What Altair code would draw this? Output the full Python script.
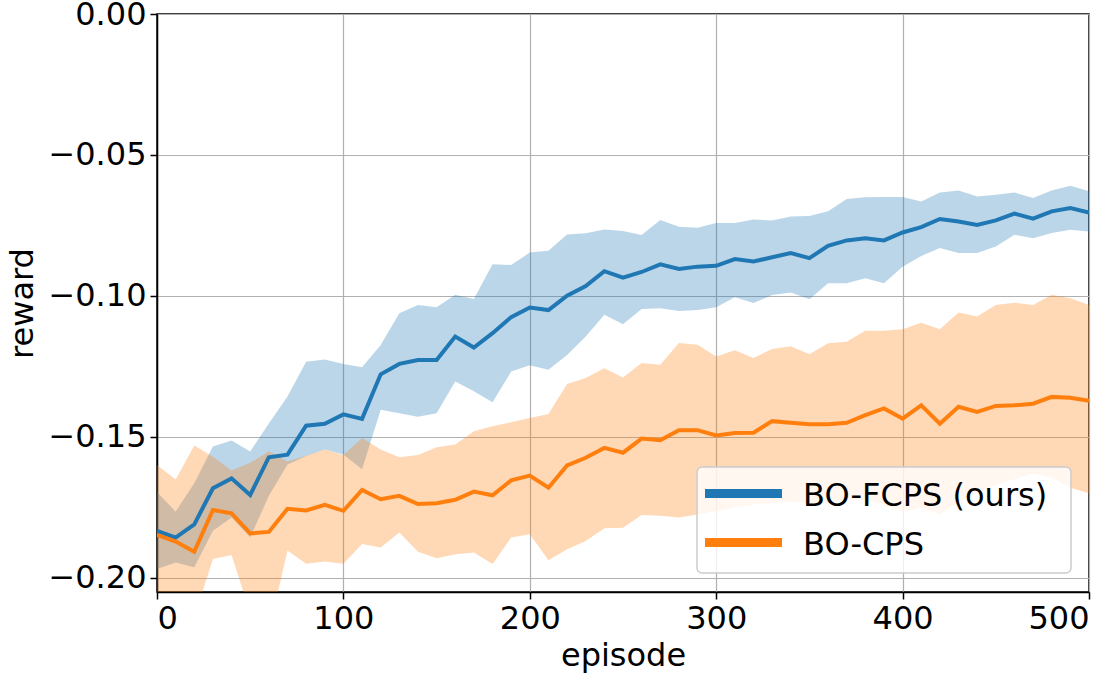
import altair as alt
import pandas as pd

episodes = list(range(0, 501, 10))

fcps_mean = [-0.1833, -0.1857, -0.1810, -0.1682, -0.1647, -0.1706, -0.1572, -0.1563, -0.1460, -0.1453,
             -0.1420, -0.1436, -0.1278, -0.1241, -0.1227, -0.1227, -0.1144, -0.1183, -0.1132, -0.1075,
             -0.1041, -0.1050, -0.0999, -0.0965, -0.0912, -0.0935, -0.0915, -0.0888, -0.0904, -0.0896,
             -0.0893, -0.0869, -0.0878, -0.0863, -0.0848, -0.0866, -0.0822, -0.0803, -0.0795, -0.0803,
             -0.0775, -0.0756, -0.0727, -0.0736, -0.0748, -0.0732, -0.0708, -0.0726, -0.0700, -0.0688,
             -0.0704]
fcps_hi = [-0.1695, -0.1765, -0.1664, -0.1534, -0.1513, -0.1552, -0.1452, -0.1357, -0.1233, -0.1225,
           -0.1241, -0.1253, -0.1174, -0.1061, -0.1032, -0.1040, -0.0996, -0.1011, -0.0888, -0.0890,
           -0.0846, -0.0840, -0.0782, -0.0778, -0.0764, -0.0770, -0.0784, -0.0731, -0.0755, -0.0758,
           -0.0741, -0.0741, -0.0729, -0.0732, -0.0718, -0.0716, -0.0700, -0.0656, -0.0650, -0.0649,
           -0.0649, -0.0665, -0.0633, -0.0626, -0.0647, -0.0641, -0.0633, -0.0653, -0.0626, -0.0609,
           -0.0629]
fcps_lo = [-0.1968, -0.1945, -0.1962, -0.1833, -0.1786, -0.1856, -0.1709, -0.1598, -0.1568, -0.1545,
           -0.1562, -0.1615, -0.1404, -0.1416, -0.1428, -0.1416, -0.1303, -0.1338, -0.1377, -0.1268,
           -0.1246, -0.1262, -0.1209, -0.1144, -0.1067, -0.1100, -0.1046, -0.1044, -0.1053, -0.1050,
           -0.1040, -0.1005, -0.1025, -0.0997, -0.0988, -0.1012, -0.0955, -0.0955, -0.0937, -0.0955,
           -0.0896, -0.0858, -0.0830, -0.0848, -0.0848, -0.0825, -0.0783, -0.0795, -0.0777, -0.0765,
           -0.0771]

cps_mean = [-0.1847, -0.1871, -0.1907, -0.1759, -0.1771, -0.1842, -0.1837, -0.1755, -0.1761, -0.1741,
            -0.1762, -0.1688, -0.1721, -0.1709, -0.1738, -0.1735, -0.1723, -0.1694, -0.1707, -0.1654,
            -0.1637, -0.1680, -0.1601, -0.1574, -0.1539, -0.1556, -0.1506, -0.1512, -0.1476, -0.1476,
            -0.1495, -0.1486, -0.1485, -0.1444, -0.1450, -0.1455, -0.1455, -0.1450, -0.1423, -0.1399,
            -0.1435, -0.1388, -0.1453, -0.1393, -0.1411, -0.1390, -0.1388, -0.1382, -0.1358, -0.1361,
            -0.1372]
cps_hi = [-0.1600, -0.1651, -0.1530, -0.1570, -0.1619, -0.1592, -0.1551, -0.1587, -0.1567, -0.1545,
          -0.1564, -0.1504, -0.1545, -0.1572, -0.1564, -0.1537, -0.1527, -0.1480, -0.1462, -0.1448,
          -0.1433, -0.1419, -0.1312, -0.1291, -0.1256, -0.1289, -0.1238, -0.1244, -0.1167, -0.1173,
          -0.1215, -0.1193, -0.1220, -0.1188, -0.1178, -0.1207, -0.1168, -0.1162, -0.1123, -0.1123,
          -0.1118, -0.1095, -0.1118, -0.1059, -0.1073, -0.1032, -0.1024, -0.1032, -0.0996, -0.1008,
          -0.1032]
cps_lo = [-0.2100, -0.2120, -0.2140, -0.1933, -0.1919, -0.2124, -0.2190, -0.1903, -0.1950, -0.1942,
          -0.1950, -0.1880, -0.1892, -0.1839, -0.1907, -0.1930, -0.1916, -0.1910, -0.1951, -0.1857,
          -0.1845, -0.1937, -0.1898, -0.1869, -0.1824, -0.1822, -0.1777, -0.1780, -0.1786, -0.1775,
          -0.1763, -0.1750, -0.1740, -0.1735, -0.1730, -0.1735, -0.1730, -0.1720, -0.1725, -0.1740,
          -0.1765, -0.1750, -0.1775, -0.1730, -0.1700, -0.1670, -0.1650, -0.1630, -0.1645, -0.1680,
          -0.1700]

series_names = ["BO-FCPS (ours)", "BO-CPS"]
series_colors = ["#1f77b4", "#ff7f0e"]
x_ticks = [0, 100, 200, 300, 400, 500]
y_ticks = [0.0, -0.05, -0.10, -0.15, -0.20]

df_f = pd.DataFrame({"episode": episodes, "mean": fcps_mean, "lo": fcps_lo, "hi": fcps_hi,
                     "series": series_names[0]})
df_c = pd.DataFrame({"episode": episodes, "mean": cps_mean, "lo": cps_lo, "hi": cps_hi,
                     "series": series_names[1]})

FONT = "DejaVu Sans"

x_enc = alt.X("episode:Q",
              scale=alt.Scale(domain=[0, 500], nice=False, zero=False),
              axis=alt.Axis(title="episode", values=x_ticks, format="d"))
y_scale = alt.Scale(domain=[-0.205, 0.0], nice=False, zero=False)
y_axis = alt.Axis(title="reward", values=y_ticks, format=".2f")


def band(df, col):
    return alt.Chart(df).mark_area(opacity=0.3, clip=True, color=col).encode(
        x=x_enc,
        y=alt.Y("lo:Q", scale=y_scale, axis=y_axis),
        y2="hi:Q",
    )


def line(df, col):
    return alt.Chart(df).mark_line(strokeWidth=4, clip=True, color=col).encode(
        x=x_enc,
        y=alt.Y("mean:Q", scale=y_scale, axis=y_axis),
    )


# legend (matplotlib-style box, lower right)
leg_df = pd.DataFrame({"series": series_names})
legend_box = alt.Chart(leg_df.head(1)).mark_rect(
    fill="white", fillOpacity=0.8, stroke="#cccccc", strokeWidth=1.5, cornerRadius=5
).encode(x=alt.value(540), x2=alt.value(914), y=alt.value(453), y2=alt.value(559))


def legend_row(i, ymid):
    d = leg_df.iloc[[i]]
    sym = alt.Chart(d).mark_rule(strokeWidth=9, color=series_colors[i]).encode(
        x=alt.value(548), x2=alt.value(625), y=alt.value(ymid))
    txt = alt.Chart(d).mark_text(
        align="left", baseline="alphabetic", font=FONT, fontSize=32, color="black"
    ).encode(x=alt.value(646), y=alt.value(ymid + 12), text="series:N")
    return sym + txt


chart = alt.layer(
    band(df_f, series_colors[0]), band(df_c, series_colors[1]),
    line(df_f, series_colors[0]), line(df_c, series_colors[1]),
    legend_box, legend_row(0, 479.5), legend_row(1, 528.5),
).properties(
    width=932, height=578,
    autosize=alt.AutoSizeParams(type="none"),
    padding={"left": 157, "top": 14, "right": 30, "bottom": 88},
    background="white",
).configure_view(
    stroke="black", strokeWidth=1.5,
).configure_axis(
    labelFont=FONT, titleFont=FONT, labelFontSize=32, titleFontSize=32,
    labelColor="black", titleColor="black", titleFontWeight="normal",
    domainColor="black", domainWidth=1.5, tickColor="black", tickSize=7, tickWidth=1.5,
    grid=True, gridColor="#b0b0b0", gridWidth=1.2, labelPadding=4,
).configure_axisX(
    titlePadding=6,
).configure_axisY(
    titlePadding=8,
)

chart.save("out.html", embed_options={"renderer": "svg", "actions": False})
